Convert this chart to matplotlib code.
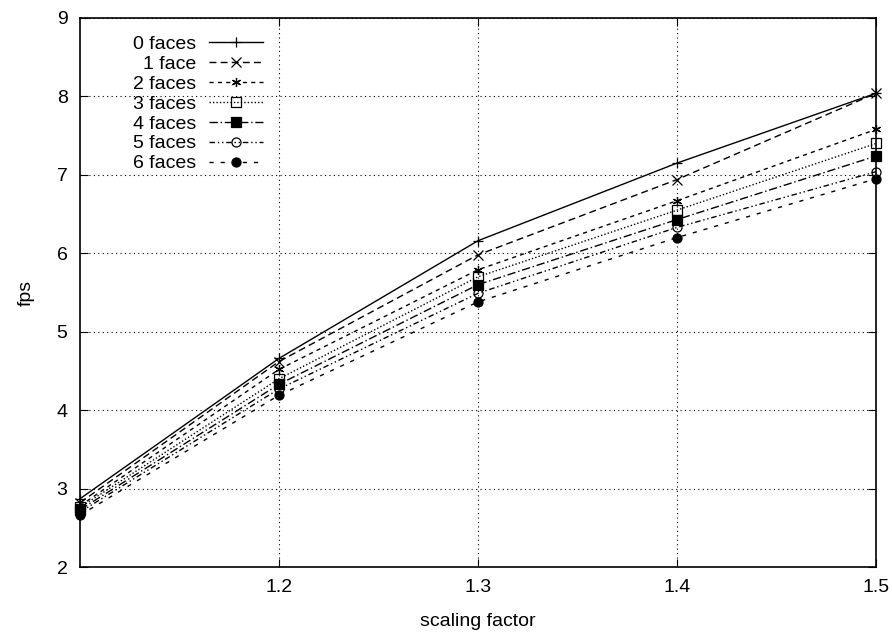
import numpy as np
import matplotlib
matplotlib.use("Agg")
import matplotlib.pyplot as plt

plt.rcParams['font.family'] = ['Liberation Sans', 'DejaVu Sans']

scale = [1.1, 1.2, 1.3, 1.4, 1.5]
labels = ["0 faces", "1 face", "2 faces", "3 faces", "4 faces", "5 faces", "6 faces"]
fps_0 = [2.87, 4.66, 6.16, 7.15, 8.04]
fps_1 = [2.82, 4.62, 5.98, 6.94, 8.04]
fps_2 = [2.78, 4.52, 5.79, 6.67, 7.58]
fps_3 = [2.76, 4.40, 5.70, 6.55, 7.40]
fps_4 = [2.73, 4.33, 5.60, 6.43, 7.24]
fps_5 = [2.70, 4.27, 5.49, 6.33, 7.04]
fps_6 = [2.66, 4.19, 5.38, 6.20, 6.95]
series = [fps_0, fps_1, fps_2, fps_3, fps_4, fps_5, fps_6]

# gnuplot-like point types and dash patterns, all in black
styles = [
    dict(ls='-', marker='+', mfc='black'),
    dict(ls=(0, (5, 3)), marker='x', mfc='black'),
    dict(ls=(0, (3, 3)), marker=(6, 2, 0), mfc='black'),
    dict(ls=(0, (1, 1.5)), marker='s', mfc='none'),
    dict(ls=(0, (6, 2, 1, 2)), marker='s', mfc='black'),
    dict(ls=(0, (4, 2, 1, 2, 1, 2)), marker='o', mfc='none'),
    dict(ls=(0, (3, 5)), marker='o', mfc='black'),
]

fig = plt.figure(figsize=(8.92, 6.33), dpi=100)
ax = fig.add_axes([80 / 892, 66 / 633, 796 / 892, 549 / 633])

for vals, lab, st in zip(series, labels, styles):
    ax.plot(scale, vals, color='black', lw=1.0, ls=st['ls'], marker=st['marker'],
            mfc=st['mfc'], mec='black', ms=6.5, mew=0.9, label=lab, clip_on=False)

ax.set_xlim(1.1, 1.5)
ax.set_ylim(2, 9)
ax.set_xticks([1.2, 1.3, 1.4, 1.5])
ax.set_yticks(range(2, 10))
ax.grid(True, color='black', ls=(0, (1, 3)), lw=0.8)
ax.tick_params(direction='in', top=True, right=True, length=6, labelsize=14, pad=9)
for sp in ax.spines.values():
    sp.set_linewidth(1.2)

ax.set_xlabel("scaling factor", fontsize=14, labelpad=12)
ax.set_ylabel("fps", fontsize=14, labelpad=16)

leg = ax.legend(loc='upper left', bbox_to_anchor=(0.052, 0.99), frameon=False,
                markerfirst=False, fontsize=14, labelspacing=0.12,
                handlelength=2.8, handletextpad=0.65, borderaxespad=0.2)

fig.savefig("out.png", dpi=100)
